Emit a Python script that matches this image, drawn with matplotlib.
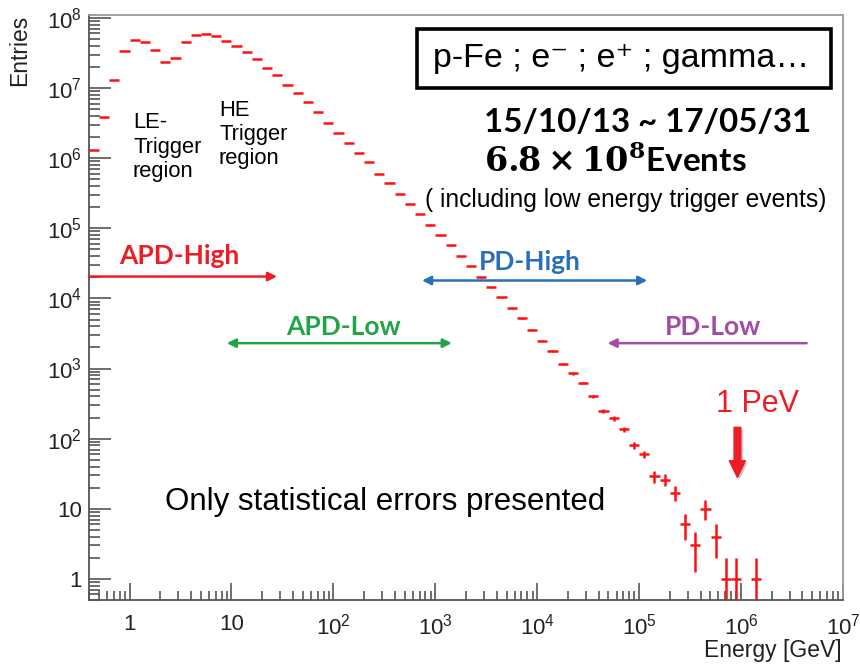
import numpy as np
import matplotlib
matplotlib.use("Agg")
import matplotlib.pyplot as plt
import matplotlib.patches as mpatches
import matplotlib.patheffects as pe
from matplotlib.ticker import FixedLocator, FuncFormatter, LogLocator, NullFormatter

# energy histogram: 0.1-decade bins starting at log10(E/GeV) = -0.4
log_e_min = -0.4
bin_width = 0.1
counts = np.array([
    1.3e6, 3.8e6, 1.3e7, 3.4e7, 4.9e7, 4.5e7, 3.5e7, 2.35e7, 2.7e7, 4.5e7,
    5.7e7, 5.9e7, 5.5e7, 4.7e7, 4.0e7, 3.3e7, 2.6e7, 1.96e7, 1.55e7, 1.1e7,
    8.5e6, 6.3e6, 4.6e6, 3.2e6, 2.3e6, 1.66e6, 1.2e6, 8.7e5, 6.0e5, 4.4e5,
    3.1e5, 2.2e5, 1.6e5, 1.13e5, 7.9e4, 5.7e4, 4.0e4, 2.9e4, 2.0e4, 1.44e4,
    1.03e4, 7.2e3, 5.2e3, 3.6e3, 2.5e3, 1.78e3, 1.15e3, 850, 620, 400,
    245, 195, 136, 81, 60, 29, 26, 17, 6, 3,
    10, 4, 1, 1, 0, 1,
])

x_ticks = [1, 10, 1e2, 1e3, 1e4, 1e5, 1e6, 1e7]
y_ticks = [1, 10, 1e2, 1e3, 1e4, 1e5, 1e6, 1e7, 1e8]

# trigger / readout ranges in GeV, with the height of each arrow
apd_high = (0.4, 28)
apd_low = (9, 1450)
pd_high = (740, 1.2e5)
pd_low = (4.4e6, 4.9e4)

RED = "#ee1c24"
GREEN = "#22a346"
BLUE = "#2a70b8"
PURPLE = "#a44ca4"

plt.rcParams["font.family"] = ["Liberation Sans", "DejaVu Sans"]
plt.rcParams["mathtext.fontset"] = "custom"
plt.rcParams["mathtext.rm"] = "Liberation Sans"
plt.rcParams["mathtext.it"] = "Liberation Sans:italic"
plt.rcParams["mathtext.bf"] = "Liberation Sans:bold"

W, H = 860, 668
fig = plt.figure(figsize=(W / 100, H / 100), dpi=100)
ax = fig.add_axes([89 / W, 1 - 600 / H, (843 - 89) / W, (600 - 15) / H])


def px(x, y):
    return x / W, 1 - y / H


log_edges = log_e_min + bin_width * np.arange(len(counts) + 1)
edges = 10 ** log_edges
centers = 10 ** (0.5 * (log_edges[:-1] + log_edges[1:]))
filled = counts > 0
err = np.sqrt(counts)
err_low = np.minimum(err, counts * (1 - 1e-9))

ax.errorbar(centers[filled], counts[filled],
            xerr=[(centers - edges[:-1])[filled], (edges[1:] - centers)[filled]],
            yerr=[err_low[filled], err[filled]],
            fmt="none", ecolor="#ff1010", elinewidth=1.8, capsize=0)

ax.set_xscale("log")
ax.set_yscale("log")
ax.set_xlim(0.4, 1e7)
ax.set_ylim(0.5, 1.1e8)


def decade_label(v, pos):
    n = int(round(np.log10(v)))
    if n == 0:
        return "1"
    if n == 1:
        return "10"
    return r"$10^{%d}$" % n


ax.xaxis.set_major_locator(FixedLocator(x_ticks))
ax.yaxis.set_major_locator(FixedLocator(y_ticks))
ax.xaxis.set_major_formatter(FuncFormatter(decade_label))
ax.yaxis.set_major_formatter(FuncFormatter(decade_label))
ax.xaxis.set_minor_locator(LogLocator(base=10, subs=np.arange(2, 10), numticks=20))
ax.yaxis.set_minor_locator(LogLocator(base=10, subs=np.arange(2, 10), numticks=20))
ax.xaxis.set_minor_formatter(NullFormatter())
ax.yaxis.set_minor_formatter(NullFormatter())

ax.tick_params(axis="both", which="both", direction="in", color="#555555",
               width=1.2, top=False, right=False, labelcolor="#222222")
ax.tick_params(axis="y", which="major", length=16, labelsize=16, pad=5)
ax.tick_params(axis="y", which="minor", length=8)
ax.tick_params(axis="x", which="major", length=12, labelsize=16, pad=10)
ax.tick_params(axis="x", which="minor", length=6.5)

for side in ["left", "bottom"]:
    ax.spines[side].set_color("#555555")
    ax.spines[side].set_linewidth(1.3)
for side in ["top", "right"]:
    ax.spines[side].set_color("#999999")
    ax.spines[side].set_linewidth(1.3)

fig.text(*px(20, 15), "Entries", rotation=90, ha="center", va="top",
         fontsize=16.5, color="#222222")
fig.text(*px(842, 651), "Energy [GeV]", ha="right", va="center",
         fontsize=16.5, color="#222222")

# particle box
fig.patches.append(mpatches.Rectangle(px(417, 88), (831 - 417) / W, (88 - 29) / H,
                                      transform=fig.transFigure, fill=False,
                                      ec="black", lw=2.6))
fig.text(*px(621, 67), "p-Fe ; e\u207b ; e\u207a ; gamma\u2026", ha="center",
         va="baseline", fontsize=24.5)

fig.text(*px(484, 132), "15/10/13 ~ 17/05/31", ha="left", va="baseline",
         fontsize=23.8, fontfamily="Lato", fontweight="bold")
fig.text(*px(484, 172), r"$\mathbf{6.8 \times 10^{8}}$Events", ha="left",
         va="baseline", fontsize=24, fontfamily="Lato", fontweight="bold",
         math_fontfamily="dejavuserif")
fig.text(*px(425, 207), "( including low energy trigger events)", ha="left",
         va="baseline", fontsize=17.7)

fig.text(*px(133, 112), "LE-\nTrigger\nregion", ha="left", va="top",
         fontsize=15.8, linespacing=1.22)
fig.text(*px(219, 100), "HE\nTrigger\nregion", ha="left", va="top",
         fontsize=15.8, linespacing=1.18)

fig.text(*px(165, 510), "Only statistical errors presented", ha="left",
         va="baseline", fontsize=22.5)


def range_arrow(x0, x1, y, color, style):
    ax.annotate("", xy=(x1, y), xytext=(x0, y),
                arrowprops=dict(arrowstyle=style, color=color, lw=1.8,
                                mutation_scale=13, shrinkA=0, shrinkB=0))


range_arrow(apd_high[0], apd_high[1], 2.05e4, RED, "-|>")
range_arrow(apd_low[0], apd_low[1], 2.3e3, GREEN, "<|-|>")
range_arrow(pd_high[0], pd_high[1], 1.8e4, BLUE, "<|-|>")
range_arrow(pd_low[0], pd_low[1], 2.3e3, PURPLE, "-|>")

label_kw = dict(ha="center", va="center", fontsize=19, fontfamily="Lato",
                fontweight="bold")
fig.text(*px(179, 256), "APD-High", color=RED, **label_kw)
fig.text(*px(343, 327), "APD-Low", color=GREEN, **label_kw)
fig.text(*px(530, 262), "PD-High", color=BLUE, **label_kw)
fig.text(*px(713, 327), "PD-Low", color=PURPLE, **label_kw)

# 1 PeV marker
fig.text(*px(757, 412), "1 PeV", ha="center", va="baseline", fontsize=22,
         color=RED)
ax.annotate("", xy=(9.2e5, 28), xytext=(9.2e5, 145),
            arrowprops=dict(arrowstyle="simple,head_length=0.6,head_width=0.58,tail_width=0.24",
                            color=RED, mutation_scale=20, shrinkA=0, shrinkB=0,
                            path_effects=[pe.withSimplePatchShadow(offset=(1.5, -1.5), alpha=0.25)]))

fig.savefig("out.png", dpi=100)
